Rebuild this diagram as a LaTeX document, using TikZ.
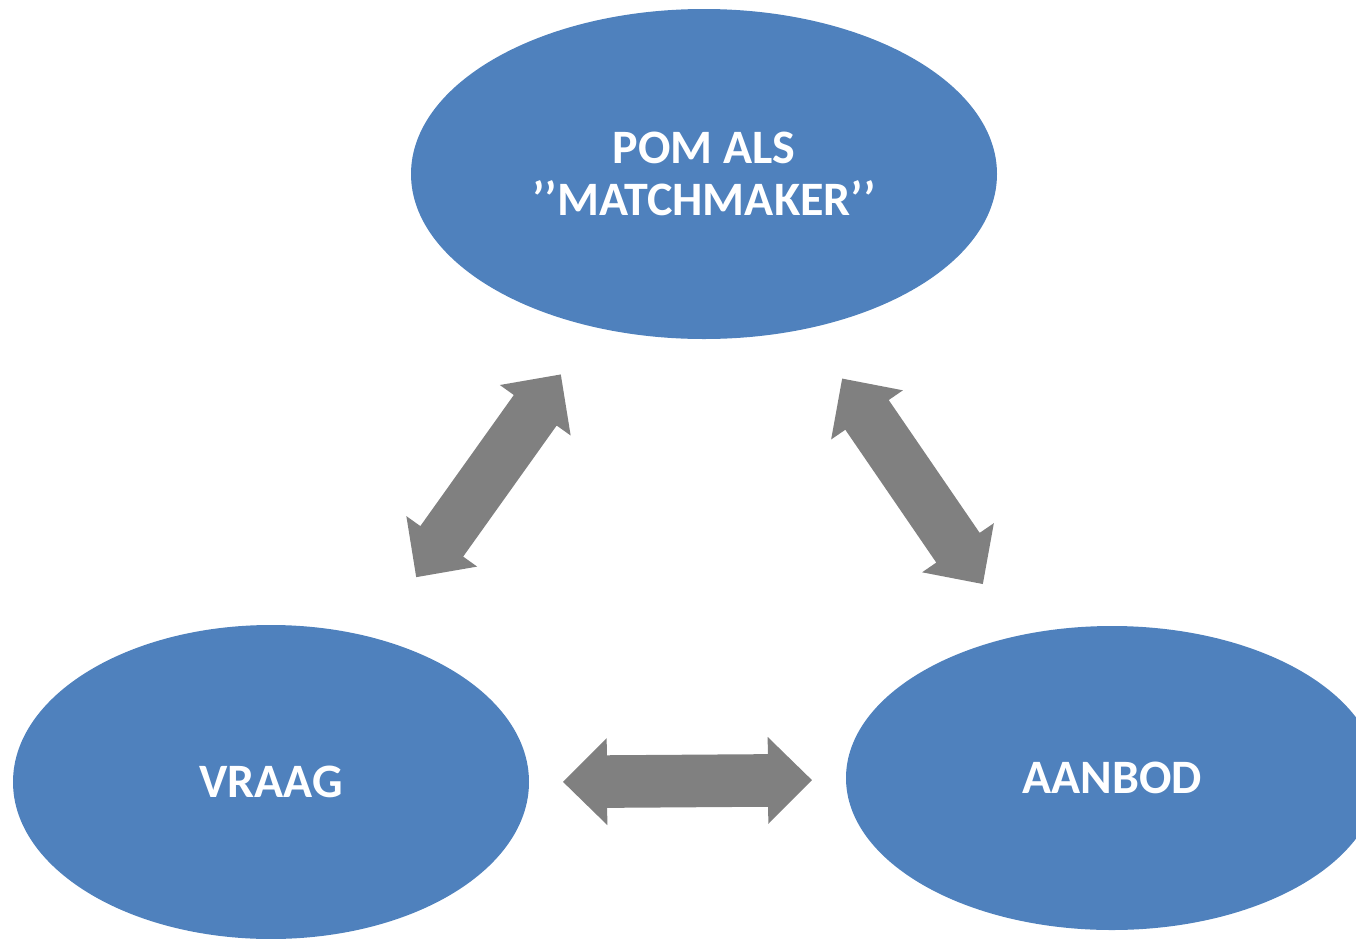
\documentclass[tikz,border=0pt]{standalone}
\usepackage{fontspec}
\setmainfont{Carlito}
\usetikzlibrary{shapes.geometric}
\definecolor{ellblue}{HTML}{4F81BD}
\definecolor{arrowgray}{HTML}{808080}
\tikzset{
  bubble/.style={ellipse, fill=ellblue, inner sep=0pt, text=white, align=center,
    font=\bfseries\fontsize{24pt}{26pt}\selectfont},
  dblarrow/.pic={
    \fill[arrowgray] (-124.5,0) -- (-80.5,43.5) -- (-80.5,26.3) -- (80.5,26.3)
      -- (80.5,43.5) -- (124.5,0) -- (80.5,-43.5) -- (80.5,-26.3)
      -- (-80.5,-26.3) -- (-80.5,-43.5) -- cycle;
  }
}
\begin{document}
\begin{tikzpicture}[x=0.5pt, y=-0.5pt]
  \useasboundingbox (0,0) rectangle (1356,938);
  \clip (0,0) rectangle (1356,938);
  \node[bubble, minimum width=293pt, minimum height=165pt] (pom) at (704,174)
    {POM ALS\\’’MATCHMAKER’’};
  \node[bubble, minimum width=258pt, minimum height=157pt] (vraag) at (271,782) {VRAAG};
  \node[bubble, minimum width=266pt, minimum height=152pt] (aanbod) at (1112,778) {AANBOD};
  \path (488.5,475.8) pic[rotate=54.5] (arrowleft) {dblarrow};
  \path (912.5,481.3) pic[rotate=-55.6] (arrowright) {dblarrow};
  \path (687.5,781) pic[rotate=0.4] (arrowbottom) {dblarrow};
\end{tikzpicture}
\end{document}
